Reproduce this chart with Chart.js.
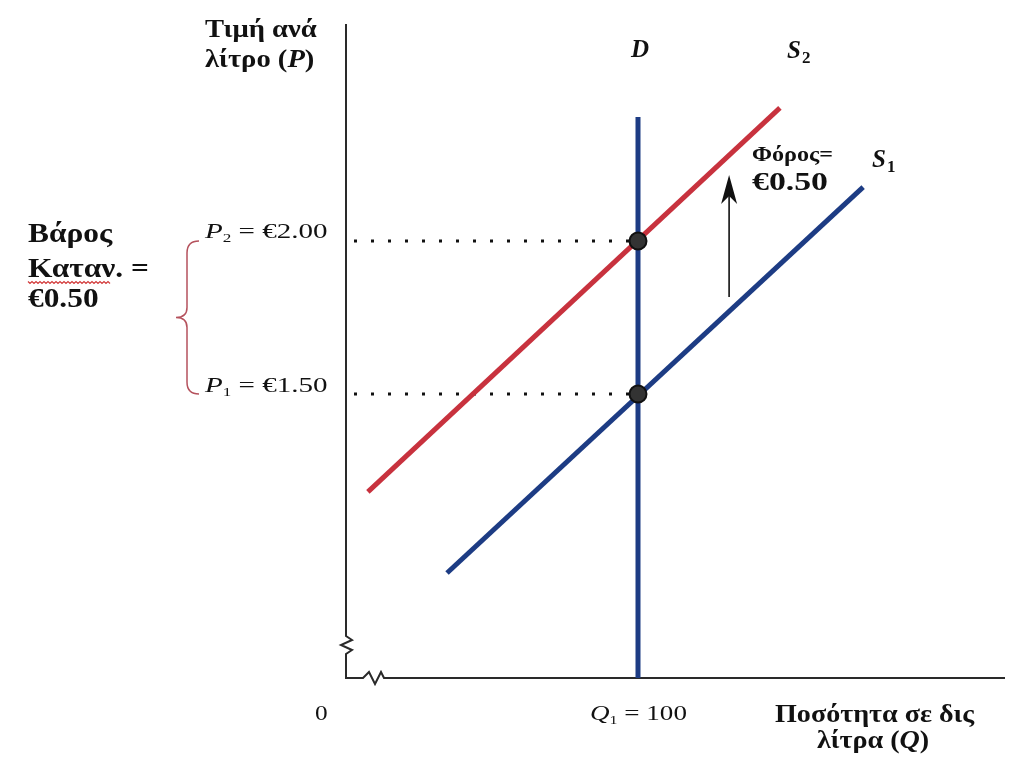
<!DOCTYPE html>
<html lang="el">
<head>
<meta charset="UTF-8">
<title>Φόρος και βάρος καταναλωτή</title>
<script src="https://cdn.jsdelivr.net/npm/chart.js"></script>
<style>
  html, body { margin: 0; padding: 0; background: #fff; }
  #wrap { width: 1015px; height: 759px; }
</style>
</head>
<body>
<div id="wrap"><canvas id="taxChart" width="1015" height="759"></canvas></div>
<script>
// axis ranges: Q in billions of litres, P in € per litre (y axis is broken, it does not start at 0)
const qRange = [0, 225];
const pRange = [0.572, 2.709];

// demand D: vertical at Q1 = 100
const demandQ = [100, 100];
const demandP = [0.572, 2.405];

// supply before the tax (S1) and after it (S2)
const s1Q = [34.6, 177.1];
const s1P = [0.915, 2.176];
const s2Q = [7.5, 148.6];
const s2P = [1.18, 2.435];

// equilibrium points
const eqQ = [100, 100];
const eqP = [1.50, 2.00];

// tax arrow (S1 -> S2)
const arrowQ = 131.2;
const arrowP = [1.817, 2.216];

const RED = '#c8323e';
const BLUE = '#1d3c84';
const SERIF = '"Liberation Serif", "DejaVu Serif", serif';

const pts = (xs, ys) => xs.map((x, i) => ({ x: x, y: ys[i] }));

// draws a run of text pieces with their own fonts / vertical shifts, stretched by sx
function drawRun(ctx, x, y, parts, sx) {
  ctx.save();
  ctx.translate(x, y);
  ctx.scale(sx || 1, 1);
  let cx = 0;
  parts.forEach(p => {
    ctx.font = p.font;
    ctx.fillText(p.t, cx, p.dy || 0);
    cx += ctx.measureText(p.t).width + (p.gap || 0);
  });
  ctx.restore();
}

// single string squeezed / stretched to a given width
function drawFit(ctx, t, x, y, font, w) {
  ctx.font = font;
  const sx = w / ctx.measureText(t).width;
  drawRun(ctx, x, y, [{ t: t, font: font }], sx);
}

const diagramPlugin = {
  id: 'diagram',
  beforeDatasetsDraw(chart) {
    const ctx = chart.ctx;
    const x0 = chart.scales.x.getPixelForValue(qRange[0]);
    const yB = chart.scales.y.getPixelForValue(pRange[0]);
    const yT = chart.scales.y.getPixelForValue(pRange[1]);
    ctx.save();
    ctx.strokeStyle = '#2a2a2a';
    ctx.lineWidth = 2;
    // y axis with break mark
    ctx.beginPath();
    ctx.moveTo(x0, yT);
    ctx.lineTo(x0, yB - 42);
    ctx.lineTo(x0 + 6, yB - 38);
    ctx.lineTo(x0 - 5, yB - 33);
    ctx.lineTo(x0 + 6, yB - 28);
    ctx.lineTo(x0, yB - 24);
    ctx.lineTo(x0, yB);
    // x axis with break mark
    ctx.lineTo(x0 + 17, yB);
    ctx.lineTo(x0 + 23, yB - 6);
    ctx.lineTo(x0 + 29, yB + 6);
    ctx.lineTo(x0 + 35, yB - 6);
    ctx.lineTo(x0 + 38, yB);
    ctx.lineTo(1005, yB);
    ctx.stroke();
    ctx.restore();
  },
  afterDatasetsDraw(chart) {
    const ctx = chart.ctx;
    const sx = chart.scales.x, sy = chart.scales.y;
    ctx.save();

    // tax arrow
    const ax = sx.getPixelForValue(arrowQ);
    const a0 = sy.getPixelForValue(arrowP[0]);
    const a1 = sy.getPixelForValue(arrowP[1]);
    ctx.strokeStyle = '#111';
    ctx.fillStyle = '#111';
    ctx.lineWidth = 1.6;
    ctx.beginPath();
    ctx.moveTo(ax, a0);
    ctx.lineTo(ax, a1 + 18);
    ctx.stroke();
    ctx.beginPath();
    ctx.moveTo(ax, a1);
    ctx.lineTo(ax - 8, a1 + 29);
    ctx.lineTo(ax, a1 + 21);
    ctx.lineTo(ax + 8, a1 + 29);
    ctx.closePath();
    ctx.fill();

    // brace for the consumer burden
    const bTop = sy.getPixelForValue(eqP[1]);
    const bBot = sy.getPixelForValue(eqP[0]);
    const bMid = (bTop + bBot) / 2;
    ctx.strokeStyle = '#b5525d';
    ctx.lineWidth = 1.5;
    ctx.beginPath();
    ctx.moveTo(199, bTop);
    ctx.quadraticCurveTo(187, bTop, 187, bTop + 12);
    ctx.lineTo(187, bMid - 10);
    ctx.quadraticCurveTo(187, bMid, 176, bMid);
    ctx.quadraticCurveTo(187, bMid, 187, bMid + 10);
    ctx.lineTo(187, bBot - 12);
    ctx.quadraticCurveTo(187, bBot, 199, bBot);
    ctx.stroke();

    // text
    ctx.fillStyle = '#111';
    ctx.textBaseline = 'alphabetic';
    ctx.textAlign = 'left';
    const bold26 = 'bold 26px ' + SERIF;
    const boldIt26 = 'italic bold 26px ' + SERIF;

    // y axis title
    drawRun(ctx, 205, 37, [{ t: 'Τιμή ανά', font: bold26 }], 1.1);
    drawRun(ctx, 205, 67, [
      { t: 'λίτρο (', font: bold26 },
      { t: 'P', font: boldIt26 },
      { t: ')', font: bold26 }
    ], 1.1);

    // consumer burden
    const bold28 = 'bold 28px ' + SERIF;
    drawRun(ctx, 28, 242, [{ t: 'Βάρος', font: bold28 }], 1.12);
    drawRun(ctx, 28, 277, [{ t: 'Καταν. =', font: bold28 }], 1.12);
    drawRun(ctx, 28, 307, [{ t: '€0.50', font: bold28 }], 1.12);
    // spell-check squiggle under "Καταν."
    ctx.strokeStyle = '#d23a3a';
    ctx.lineWidth = 1.2;
    ctx.beginPath();
    for (let x = 28, k = 0; x <= 110; x += 2, k++) {
      const y = 282 + (k % 2 ? 1.5 : -0.5);
      if (k === 0) ctx.moveTo(x, y); else ctx.lineTo(x, y);
    }
    ctx.stroke();

    // price labels
    const reg = '22px ' + SERIF;
    const it = 'italic 22px ' + SERIF;
    const sub = '13px ' + SERIF;
    drawRun(ctx, 205, bTop - 3, [
      { t: 'P', font: it },
      { t: '2', font: sub, dy: 4 },
      { t: ' = €2.00', font: reg }
    ], 1.32);
    drawRun(ctx, 205, bBot - 2, [
      { t: 'P', font: it },
      { t: '1', font: sub, dy: 4 },
      { t: ' = €1.50', font: reg }
    ], 1.32);

    // x axis labels
    drawRun(ctx, 315, 720, [{ t: '0', font: reg }], 1.15);
    drawRun(ctx, 590, 720, [
      { t: 'Q', font: it },
      { t: '1', font: sub, dy: 4 },
      { t: ' = 100', font: reg }
    ], 1.23);
    drawRun(ctx, 775, 722, [{ t: 'Ποσότητα σε δις', font: bold26 }], 1.08);
    drawRun(ctx, 817, 748, [
      { t: 'λίτρα (', font: bold26 },
      { t: 'Q', font: boldIt26 },
      { t: ')', font: bold26 }
    ], 1.08);

    // curve labels
    ctx.font = 'italic bold 25px ' + SERIF;
    ctx.textAlign = 'center';
    ctx.fillText('D', sx.getPixelForValue(demandQ[0]) + 2, 57);
    ctx.textAlign = 'left';
    drawRun(ctx, 787, 58, [
      { t: 'S', font: 'italic bold 25px ' + SERIF, gap: 1 },
      { t: '2', font: 'bold 17px ' + SERIF, dy: 5 }
    ]);
    drawRun(ctx, 872, 167, [
      { t: 'S', font: 'italic bold 25px ' + SERIF, gap: 1 },
      { t: '1', font: 'bold 17px ' + SERIF, dy: 5 }
    ]);

    // tax label
    drawFit(ctx, 'Φόρος=', 752, 161, 'bold 22px ' + SERIF, 81);
    drawFit(ctx, '€0.50', 752, 190, 'bold 25px ' + SERIF, 76);

    ctx.restore();
  }
};

new Chart(document.getElementById('taxChart'), {
  type: 'scatter',
  data: {
    datasets: [
      {
        label: 'Ισορροπία',
        data: pts(eqQ, eqP),
        showLine: false,
        pointRadius: 8.5,
        pointBackgroundColor: '#333',
        pointBorderColor: '#111',
        pointBorderWidth: 2,
        order: 0
      },
      {
        label: 'D',
        data: pts(demandQ, demandP),
        showLine: true,
        borderColor: BLUE,
        borderWidth: 5,
        pointRadius: 0,
        order: 1
      },
      {
        label: 'S1',
        data: pts(s1Q, s1P),
        showLine: true,
        borderColor: BLUE,
        borderWidth: 5,
        pointRadius: 0,
        order: 2
      },
      {
        label: 'S2',
        data: pts(s2Q, s2P),
        showLine: true,
        borderColor: RED,
        borderWidth: 5,
        pointRadius: 0,
        order: 2
      },
      {
        label: 'P2 guide',
        data: [{ x: qRange[0], y: eqP[1] }, { x: eqQ[1], y: eqP[1] }],
        showLine: true,
        borderColor: '#111',
        borderWidth: 3,
        borderDash: [3, 14],
        borderDashOffset: -8,
        pointRadius: 0,
        order: 3
      },
      {
        label: 'P1 guide',
        data: [{ x: qRange[0], y: eqP[0] }, { x: eqQ[0], y: eqP[0] }],
        showLine: true,
        borderColor: '#111',
        borderWidth: 3,
        borderDash: [3, 14],
        borderDashOffset: -8,
        pointRadius: 0,
        order: 3
      }
    ]
  },
  options: {
    responsive: false,
    animation: false,
    layout: { padding: { left: 346, right: 12, top: 24, bottom: 81 } },
    plugins: {
      legend: { display: false },
      tooltip: { enabled: false }
    },
    scales: {
      x: { type: 'linear', min: qRange[0], max: qRange[1], display: false },
      y: { type: 'linear', min: pRange[0], max: pRange[1], display: false }
    }
  },
  plugins: [diagramPlugin]
});
</script>
</body>
</html>
